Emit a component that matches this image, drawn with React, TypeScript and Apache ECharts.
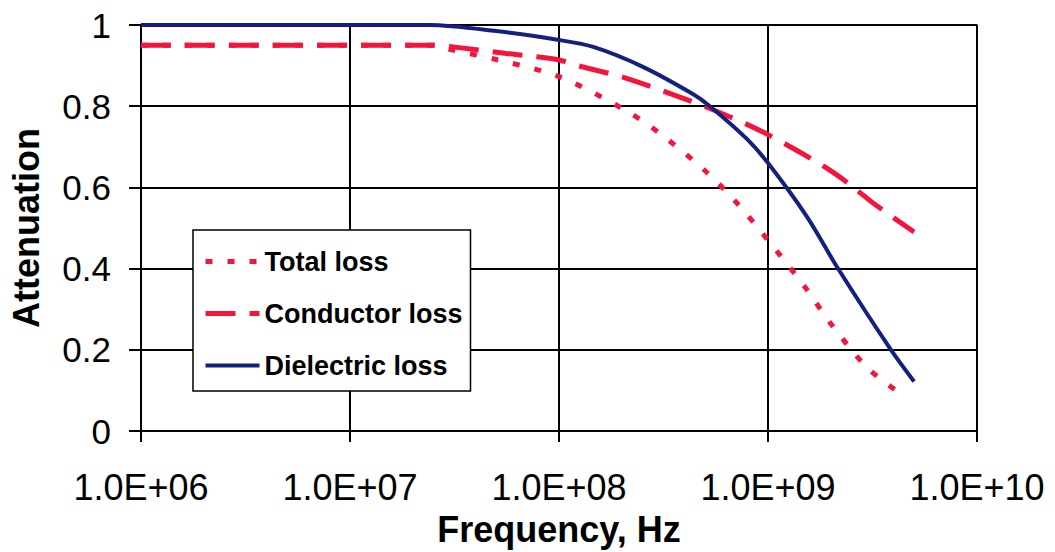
import React, { useEffect, useRef } from "react";
import * as echarts from "echarts";

// Frequencies (Hz) and attenuation values
const totalFreq = [1e6, 2.5e7, 3e7, 5e7, 1e8, 2e8, 3e8, 5e8, 7e8, 1e9, 1.5e9, 2e9, 3e9, 4.5e9];
const totalVals = [0.95, 0.95, 0.94, 0.915, 0.873, 0.795, 0.735, 0.641, 0.565, 0.47, 0.355, 0.264, 0.155, 0.085];

const conductorFreq = [1e6, 2.5e7, 3.5e7, 5.6e7, 1e8, 1.23e8, 2.07e8, 3.67e8, 5.9e8, 1e9, 2.05e9, 3.33e9, 5e9];
const conductorVals = [0.95, 0.95, 0.943, 0.93, 0.914, 0.9, 0.87, 0.825, 0.784, 0.73, 0.637, 0.554, 0.49];

const dielectricFreq = [1e6, 2.4e7, 5e7, 1e8, 1.46e8, 2.52e8, 4.37e8, 5.27e8, 7.9e8, 1e9, 1.54e9, 2.14e9, 3.84e9, 5e9];
const dielectricVals = [1.0, 1.0, 0.985, 0.963, 0.946, 0.897, 0.83, 0.8, 0.72, 0.66, 0.527, 0.404, 0.203, 0.122];

const seriesNames = ["Total loss", "Conductor loss", "Dielectric loss"];
const xMin = 1e6;
const xMax = 1e10;
const yTicks = [0, 0.2, 0.4, 0.6, 0.8, 1];

const RED = "#f7143c";
const NAVY = "#13207f";
const FONT = "'Liberation Sans', Arial, sans-serif";

const pairs = (xs: number[], ys: number[]) => xs.map((x, i) => [x, ys[i]]);

export default function App() {
  const ref = useRef<HTMLDivElement>(null);
  useEffect(() => {
    if (!ref.current) return;
    const chart = echarts.init(ref.current, null, { renderer: "svg" });
    const totalStyle = { color: RED, width: 5, type: [7, 15], cap: "butt" };
    const condStyle = { color: RED, width: 5, type: [30, 14], cap: "butt" };
    const dielStyle = { color: NAVY, width: 4, type: "solid" };
    chart.setOption({
      animation: false,
      backgroundColor: "#ffffff",
      textStyle: { fontFamily: FONT },
      grid: {
        left: 141,
        top: 25,
        right: 78,
        bottom: 117,
        show: true,
        borderColor: "#555",
        borderWidth: 1.5,
        containLabel: false,
      },
      legend: {
        orient: "vertical",
        left: 193,
        top: 230,
        width: 280,
        backgroundColor: "#ffffff",
        borderColor: "#000",
        borderWidth: 1.5,
        borderRadius: 0,
        padding: [18, 8, 12, 10],
        itemGap: 25,
        itemWidth: 54,
        itemHeight: 14,
        itemStyle: { opacity: 0 },
        data: [
          { name: seriesNames[0], lineStyle: totalStyle, itemStyle: { opacity: 0 } },
          { name: seriesNames[1], lineStyle: condStyle, itemStyle: { opacity: 0 } },
          { name: seriesNames[2], lineStyle: dielStyle, itemStyle: { opacity: 0 } },
        ],
        textStyle: { fontFamily: FONT, fontSize: 27, fontWeight: "bold", color: "#000" },
      },
      xAxis: {
        type: "log",
        logBase: 10,
        min: xMin,
        max: xMax,
        name: "Frequency, Hz",
        nameLocation: "middle",
        nameGap: 80,
        nameTextStyle: { fontFamily: FONT, fontSize: 36, fontWeight: "bold", color: "#000" },
        axisLine: { show: true, onZero: false, lineStyle: { color: "#000", width: 2 } },
        axisTick: { show: true, inside: false, length: 11, lineStyle: { color: "#000", width: 2 } },
        minorTick: { show: false },
        splitLine: { show: true, lineStyle: { color: "#000", width: 2 } },
        axisLabel: {
          margin: 38,
          fontFamily: FONT,
          fontSize: 36,
          color: "#000",
          formatter: (v: number) => {
            const e = Math.round(Math.log10(v));
            return "1.0E+" + (e < 10 ? "0" + e : String(e));
          },
        },
      },
      yAxis: {
        type: "value",
        min: 0,
        max: 1,
        interval: 0.2,
        name: "Attenuation",
        nameLocation: "middle",
        nameGap: 97,
        nameRotate: 90,
        nameTextStyle: { fontFamily: FONT, fontSize: 36, fontWeight: "bold", color: "#000" },
        axisLine: { show: true, lineStyle: { color: "#000", width: 2 } },
        axisTick: { show: true, length: 12, lineStyle: { color: "#000", width: 2 } },
        splitLine: { show: true, lineStyle: { color: "#000", width: 2 } },
        axisLabel: {
          margin: 30,
          fontFamily: FONT,
          fontSize: 35,
          color: "#000",
          formatter: (v: number) => {
            const t = yTicks.find((k) => Math.abs(k - v) < 1e-9);
            return String(t !== undefined ? t : v);
          },
        },
      },
      series: [
        {
          name: seriesNames[0],
          type: "line",
          data: pairs(totalFreq, totalVals),
          showSymbol: false,
          symbol: "none",
          smooth: 0.3,
          z: 3,
          lineStyle: totalStyle,
          itemStyle: { color: RED },
        },
        {
          name: seriesNames[1],
          type: "line",
          data: pairs(conductorFreq, conductorVals),
          showSymbol: false,
          symbol: "none",
          smooth: 0.3,
          z: 3,
          lineStyle: condStyle,
          itemStyle: { color: RED },
        },
        {
          name: seriesNames[2],
          type: "line",
          data: pairs(dielectricFreq, dielectricVals),
          showSymbol: false,
          symbol: "none",
          smooth: 0.3,
          z: 4,
          lineStyle: dielStyle,
          itemStyle: { color: NAVY },
        },
      ],
    });
    return () => chart.dispose();
  }, []);
  return (
    <div
      ref={ref}
      style={{ position: "fixed", left: 0, top: 0, width: 1055, height: 552, background: "#fff" }}
    />
  );
}
